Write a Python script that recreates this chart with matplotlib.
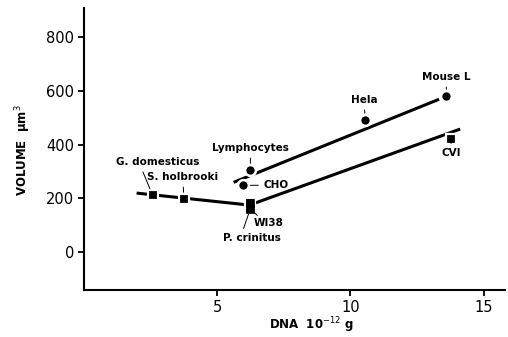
import matplotlib
matplotlib.use("Agg")
import matplotlib.pyplot as plt

# cell types: DNA content (10^-12 g) and volume (um^3)
circle_names = ["Lymphocytes", "CHO", "Hela", "Mouse L"]
circle_dna = [6.25, 5.99, 10.56, 13.6]
circle_vol = [305, 249, 491, 580]

square_names = ["G. domesticus", "S. holbrooki", "P. crinitus", "WI38", "CVI"]
square_dna = [2.58, 3.76, 6.25, 6.25, 13.78]
square_vol = [212, 197, 162, 182, 420]

# fitted lines (end points)
line_left_x = [1.98, 6.25]
line_left_y = [220, 175]
line_upper_x = [5.62, 13.33]
line_upper_y = [260, 569]
line_lower_x = [6.4, 14.12]
line_lower_y = [182, 458]

fig = plt.figure(figsize=(5.08, 3.37), dpi=100)
ax = fig.add_axes([0.165, 0.139, 0.829, 0.837])

lw = 2.2
ax.plot(line_left_x, line_left_y, color="black", lw=lw, solid_capstyle="butt", zorder=2)
ax.plot(line_upper_x, line_upper_y, color="black", lw=lw, solid_capstyle="butt", zorder=2)
ax.plot(line_lower_x, line_lower_y, color="black", lw=lw, solid_capstyle="butt", zorder=2)

ax.plot(circle_dna, circle_vol, "o", color="black", ms=7.8, mec="white", mew=1.8, ls="none", zorder=3)
ax.plot(square_dna, square_vol, "s", color="black", ms=6.8, mec="white", mew=1.6, ls="none", zorder=3)
# the two overlapping squares form one block, redraw them without halo between
ax.plot(square_dna[2:4], square_vol[2:4], "s", color="black", ms=5.6, mec="black", mew=0.5, ls="none", zorder=4)

lab = dict(fontsize=7.5, fontweight="bold", ha="center", va="center")
lead = dict(arrowstyle="-", color="black", lw=0.7, shrinkA=1.5, shrinkB=5)

ax.annotate("Mouse L", xy=(circle_dna[3], circle_vol[3]), xytext=(13.6, 651),
            arrowprops=dict(lead, relpos=(0.5, 0)), **lab)
ax.annotate("Hela", xy=(circle_dna[2], circle_vol[2]), xytext=(10.52, 566),
            arrowprops=dict(lead, relpos=(0.5, 0)), **lab)
ax.annotate("Lymphocytes", xy=(circle_dna[0], circle_vol[0]), xytext=(6.25, 387),
            arrowprops=dict(lead, relpos=(0.5, 0)), **lab)
ax.annotate("CHO", xy=(circle_dna[1], circle_vol[1]), xytext=(7.2, 249),
            arrowprops=dict(lead, relpos=(0, 0.5), shrinkA=1.5, shrinkB=5), **lab)
ax.annotate("CVI", xy=(square_dna[4], square_vol[4]), xytext=(13.78, 368),
            arrowprops=dict(lead, relpos=(0.5, 1)), **lab)
ax.annotate("WI38", xy=(square_dna[3], square_vol[2]), xytext=(6.95, 108),
            arrowprops=dict(lead, relpos=(0.2, 1), shrinkA=0, shrinkB=2), **lab)
ax.annotate("P. crinitus", xy=(square_dna[2], square_vol[2]), xytext=(6.3, 52),
            arrowprops=dict(lead, relpos=(0.33, 1), shrinkB=4), **lab)
ax.annotate("G. domesticus", xy=(square_dna[0], square_vol[0]), xytext=(2.77, 335),
            arrowprops=dict(lead, relpos=(0.3, 0)), **lab)
ax.annotate("S. holbrooki", xy=(square_dna[1], square_vol[1]), xytext=(3.72, 279),
            arrowprops=dict(lead, relpos=(0.5, 0)), **lab)

ax.set_xlim(0, 15.8)
ax.set_ylim(-141, 908)
ax.set_xticks([5, 10, 15])
ax.set_yticks([0, 200, 400, 600, 800])
ax.tick_params(direction="out", length=4, width=1.3, labelsize=10.5, pad=3)

for side in ["top", "right"]:
    ax.spines[side].set_visible(False)
for side in ["left", "bottom"]:
    ax.spines[side].set_linewidth(1.5)

ax.set_xlabel("DNA  10$^{-12}$ g", fontsize=8.5, fontweight="bold")
ax.xaxis.set_label_coords(0.54, -0.09)
ax.set_ylabel("VOLUME  \u03bcm$^3$", fontsize=8.5, fontweight="bold")
ax.yaxis.set_label_coords(-0.12, 0.497)

plt.savefig("out.png", dpi=100)
